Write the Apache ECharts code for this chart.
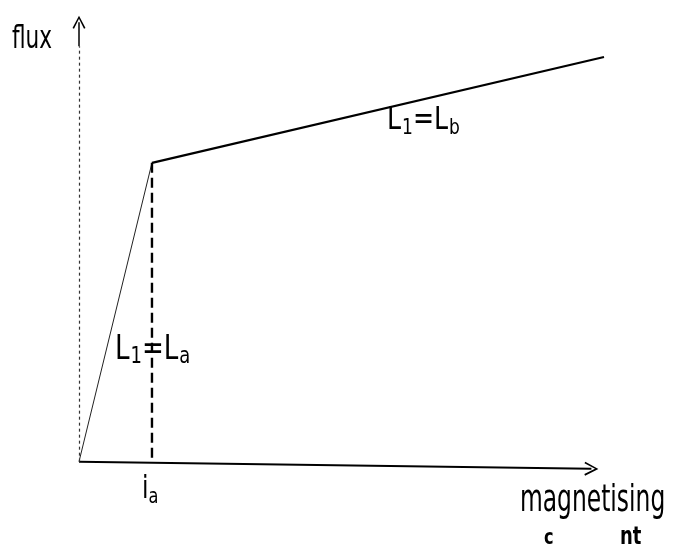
<!DOCTYPE html>
<html>
<head>
<meta charset="utf-8">
<script src="https://cdn.jsdelivr.net/npm/echarts@6/dist/echarts.min.js"></script>
<style>
  html, body { margin: 0; padding: 0; background: #fff; }
  #chart { width: 674px; height: 547px; }
</style>
</head>
<body>
<div id="chart"></div>
<script>
// Piecewise-linear magnetising characteristic: flux against magnetising current
const currentPts = [0, 13.9, 100];   // origin, knee (i_a), end of saturated segment
const fluxPts    = [0, 66.9, 90.6];
const kneeCurrent = 13.9;            // i_a
const kneeFlux = 66.9;
const xAxisEnd = [97.6, -1.6];       // end of the (slightly sloped) current axis
const yAxisTop = 98.4;               // end of the flux axis
const yAxisSolidFrom = 93;           // inked part of the flux axis below its arrow

const chevron = 'path://M0,14 L7,0 L14,14 L12.4,14.8 L7,3.6 L1.6,14.8 Z';
const fam = '"DejaVu Sans Condensed", "DejaVu Sans", sans-serif';

function txt(size) { return { fontSize: size, fontFamily: fam, fill: '#000' }; }

// tall, narrow stencil-style lettering: plain text stretched vertically
function label(x, y, sy, style) {
  return {
    type: 'text', x: x, y: y, scaleX: 1, scaleY: sy, originX: 0, originY: 0,
    style: Object.assign({ x: 0, y: 0, align: 'left', verticalAlign: 'middle' }, style)
  };
}

const chart = echarts.init(document.getElementById('chart'), null, { renderer: 'canvas' });

chart.setOption({
  backgroundColor: '#ffffff',
  animation: false,
  grid: { left: 79, top: 15, width: 525, height: 469, containLabel: false },
  xAxis: {
    type: 'value', min: 0, max: 100,
    axisLine: { show: false }, axisTick: { show: false },
    axisLabel: { show: false }, splitLine: { show: false }
  },
  yAxis: {
    type: 'value', min: -5, max: 100,
    axisLine: { show: false }, axisTick: { show: false },
    axisLabel: { show: false }, splitLine: { show: false }
  },
  series: [
    {
      // linear region, slope L1 = La; axes drawn as marker lines
      type: 'line', symbol: 'none', silent: true, clip: false,
      data: [[currentPts[0], fluxPts[0]], [currentPts[1], fluxPts[1]]],
      lineStyle: { color: '#222', width: 1 },
      markLine: {
        silent: true, symbol: ['none', 'none'],
        label: { show: false },
        data: [
          [{ coord: [0, 0], lineStyle: { color: '#000', width: 2, type: 'solid' }, symbol: 'none' },
           { coord: xAxisEnd, symbol: chevron, symbolSize: [14, 14] }],
          [{ coord: [0, 0], lineStyle: { color: '#333', width: 1.2, type: [3, 3] }, symbol: 'none' },
           { coord: [0, yAxisSolidFrom], symbol: 'none' }],
          [{ coord: [0, yAxisSolidFrom], lineStyle: { color: '#000', width: 1.5, type: 'solid' }, symbol: 'none' },
           { coord: [0, yAxisTop], symbol: chevron, symbolSize: [13, 13] }]
        ]
      }
    },
    {
      // saturated region, slope L1 = Lb
      type: 'line', symbol: 'none', silent: true,
      data: [[currentPts[1], fluxPts[1]], [currentPts[2], fluxPts[2]]],
      lineStyle: { color: '#000', width: 2.2 }
    },
    {
      // projection of the knee onto the current axis
      type: 'line', symbol: 'none', silent: true,
      data: [[kneeCurrent, kneeFlux], [kneeCurrent, -0.3]],
      lineStyle: { color: '#000', width: 2.4, type: [10, 5] }
    }
  ],
  graphic: [
    label(12, 40, 1.35, Object.assign({ text: 'flux' }, txt(24))),
    label(387, 121, 1.15, {
      text: '{m|L}{s|1}{m|=L}{s|b}',
      rich: { m: txt(28), s: Object.assign({ padding: [12, 0, 0, 1] }, txt(19)) }
    }),
    label(115, 350, 1.15, {
      text: '{m|L}{s|1}{m|=L}{s|a}',
      rich: { m: txt(29), s: Object.assign({ padding: [12, 0, 0, 1] }, txt(20)) }
    }),
    label(142, 490, 1.2, {
      text: '{m|i}{s|a}',
      rich: { m: txt(26), s: Object.assign({ padding: [12, 0, 0, 0] }, txt(18)) }
    }),
    label(520, 502, 1.4, Object.assign({ text: 'magnetising' }, txt(26))),
    label(544, 538, 1.2, Object.assign({ text: 'c', fontWeight: 'bold' }, txt(18))),
    label(620, 538, 1.2, Object.assign({ text: 'nt', fontWeight: 'bold' }, txt(20)))
  ]
});
</script>
</body>
</html>
